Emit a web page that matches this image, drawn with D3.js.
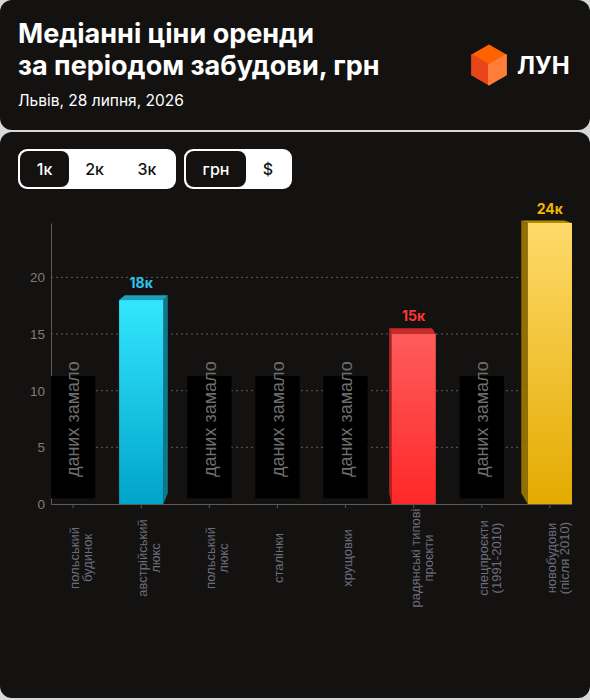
<!DOCTYPE html>
<html>
<head>
<meta charset="utf-8">
<script src="https://cdn.jsdelivr.net/npm/d3@7/dist/d3.min.js"></script>
<style>
  body { margin: 0; background: #ffffff; }
  svg { display: block; }
</style>
</head>
<body>
<div id="chart"></div>
<script>
const categories = ["польський будинок", "австрійський люкс", "польський люкс", "сталінки",
    "хрущовки", "радянські типові проєкти", "спецпроєкти (1991-2010)", "новобудови (після 2010)"];
const categoryLines = [["польський", "будинок"], ["австрійський", "люкс"], ["польський", "люкс"], ["сталінки"],
    ["хрущовки"], ["радянські типові", "проєкти"], ["спецпроєкти", "(1991-2010)"], ["новобудови", "(після 2010)"]];
const values = [null, 18, null, null, null, 15, null, 24.8];
const valueLabels = [null, "18к", null, null, null, "15к", null, "24к"];
const yTicks = [0, 5, 10, 15, 20];
const periodOptions = ["1к", "2к", "3к"];
const currencyOptions = ["грн", "$"];
const noDataText = "даних замало";
const noDataBox = [0.5, 11.3];   // value range covered by the placeholder box
const titleLines = ["Медіанні ціни оренди", "за періодом забудови, грн"];
const subtitle = "Львів, 28 липня, 2026";

const w = 590;
const h = 700;
const bg = "#131211";
const sans = "Inter, 'Noto Sans', sans-serif";
const arial = "'Liberation Sans', Arial, sans-serif";

// front gradient top/bottom, top face, side face, label colour
const barStyles = {
    1: { top: "#33e6ff", bottom: "#00a4c8", cap: "#1aa3ba", side: "#10788a", label: "#29c6e8" },
    5: { top: "#ff5c5c", bottom: "#ff2828", cap: "#c62a2a", side: "#b32020", label: "#ff3434" },
    7: { top: "#ffda6a", bottom: "#e3aa00", cap: "#b08b00", side: "#8f7000", label: "#f2b600" }
};

const svg = d3.select('#chart')
    .append('svg')
    .attr('width', w)
    .attr('height', h)

// cards
svg.append('rect').attr('x', 0).attr('y', 0).attr('width', w).attr('height', h).attr('fill', '#d8d8d8')
svg.append('rect').attr('x', 0).attr('y', 0).attr('width', w).attr('height', 130).attr('rx', 12).attr('fill', bg)
svg.append('rect').attr('x', 0).attr('y', 132).attr('width', w).attr('height', 566).attr('rx', 12).attr('fill', bg)

// header
svg.append('text')
    .attr('x', 18).attr('y', 43)
    .attr('fill', '#fff')
    .style('font-family', sans).style('font-weight', 700).style('font-size', '27px')
    .selectAll('tspan')
    .data(titleLines)
    .enter()
    .append('tspan')
    .attr('x', 18)
    .attr('dy', (d, i) => i === 0 ? 0 : 32)
    .text(d => d)

svg.append('text')
    .attr('x', 18).attr('y', 106)
    .attr('fill', '#fff')
    .style('font-family', sans).style('font-size', '15.5px')
    .text(subtitle)

// logo cube
const cx = 489, cy = 65, s = 19.5;
const c30 = Math.cos(Math.PI / 6) * s;
const logo = svg.append('g').attr('stroke-linejoin', 'round')
logo.append('polygon')
    .attr('points', [[cx, cy - s], [cx + c30, cy - s / 2], [cx, cy], [cx - c30, cy - s / 2]].join(' '))
    .attr('fill', '#ff6200').attr('stroke', '#ff6200').attr('stroke-width', 2)
logo.append('polygon')
    .attr('points', [[cx - c30, cy - s / 2], [cx, cy], [cx, cy + s], [cx - c30, cy + s / 2]].join(' '))
    .attr('fill', '#e8461a').attr('stroke', '#e8461a').attr('stroke-width', 2)
logo.append('polygon')
    .attr('points', [[cx + c30, cy - s / 2], [cx, cy], [cx, cy + s], [cx + c30, cy + s / 2]].join(' '))
    .attr('fill', '#ff7d3a').attr('stroke', '#ff7d3a').attr('stroke-width', 2)
svg.append('text')
    .attr('x', 517).attr('y', 74)
    .attr('fill', '#fff')
    .style('font-family', sans).style('font-weight', 700).style('font-size', '24px')
    .text('ЛУН')

// toggles
const makeToggle = (opts, x0, widths, selected) => {
    const g = svg.append('g')
    const total = d3.sum(widths) + 4
    g.append('rect').attr('x', x0).attr('y', 149).attr('width', total).attr('height', 40).attr('rx', 9).attr('fill', '#fff')
    let x = x0 + 2
    opts.forEach((o, i) => {
        if (i === selected) {
            g.append('rect').attr('x', x).attr('y', 151).attr('width', widths[i]).attr('height', 36).attr('rx', 8).attr('fill', bg)
        }
        g.append('text')
            .attr('x', x + widths[i] / 2).attr('y', 175)
            .attr('text-anchor', 'middle')
            .attr('fill', i === selected ? '#fff' : '#111')
            .style('font-family', sans).style('font-weight', 500).style('font-size', '16px')
            .text(o)
        x += widths[i]
    })
}
makeToggle(periodOptions, 18, [49, 51, 54], 0)
makeToggle(currencyOptions, 184, [60, 44], 0)

// chart
const plotL = 51, plotR = 572, plotT = 223, plotB = 504;

const xScale = d3.scaleBand()
    .domain(categories)
    .range([plotL, plotR])
    .paddingInner(0.35)
    .paddingOuter(0)

const yScale = d3.scaleLinear()
    .domain([0, d3.max(values)])
    .range([plotB, plotT])

// grid
svg.append('g')
    .selectAll('line')
    .data(yTicks.filter(d => d > 0))
    .enter()
    .append('line')
    .attr('x1', plotL).attr('x2', plotR)
    .attr('y1', d => yScale(d)).attr('y2', d => yScale(d))
    .attr('stroke', '#5c5c5c')
    .attr('stroke-dasharray', '2,3')

// y axis
const yAxis = d3.axisLeft(yScale).tickValues(yTicks).tickSize(0).tickPadding(6)
const yG = svg.append('g')
    .attr('transform', 'translate(' + plotL + ',0)')
    .call(yAxis)
yG.select('.domain').attr('stroke', '#5a5a5a')
yG.selectAll('text').attr('fill', '#7e7e7e').style('font-family', arial).style('font-size', '13.5px')

// x axis
const xAxis = d3.axisBottom(xScale).tickSize(4).tickFormat('')
const xG = svg.append('g')
    .attr('transform', 'translate(0,' + plotB + ')')
    .call(xAxis)
xG.select('.domain').attr('stroke', '#5a5a5a').attr('d', 'M' + plotL + ',0.5H' + plotR)
xG.selectAll('.tick line').attr('stroke', '#5a5a5a')

// x labels
svg.append('g')
    .selectAll('text')
    .data(categories)
    .enter()
    .append('text')
    .attr('transform', d => 'translate(' + (xScale(d) + xScale.bandwidth() / 2) + ',558) rotate(-90)')
    .attr('text-anchor', 'middle')
    .attr('fill', '#6c6c7c')
    .style('font-family', arial).style('font-size', '13px')
    .each(function (d, i) {
        d3.select(this).selectAll('tspan')
            .data(categoryLines[i])
            .enter()
            .append('tspan')
            .attr('x', 0)
            .attr('y', (l, j) => 6 + j * 13)
            .text(l => l)
    })

// gradients
const defs = svg.append('defs')
Object.keys(barStyles).forEach(k => {
    const grad = defs.append('linearGradient').attr('id', 'g' + k).attr('x1', 0).attr('y1', 0).attr('x2', 0).attr('y2', 1)
    grad.append('stop').attr('offset', '0%').attr('stop-color', barStyles[k].top)
    grad.append('stop').attr('offset', '100%').attr('stop-color', barStyles[k].bottom)
})

// placeholders for missing data
const bw = xScale.bandwidth()
const missing = categories.filter((c, i) => values[i] === null)
const ph = svg.append('g')
ph.selectAll('rect')
    .data(missing)
    .enter()
    .append('rect')
    .attr('x', d => xScale(d))
    .attr('y', yScale(noDataBox[1]))
    .attr('width', bw)
    .attr('height', yScale(noDataBox[0]) - yScale(noDataBox[1]))
    .attr('fill', '#000')
ph.selectAll('text')
    .data(missing)
    .enter()
    .append('text')
    .attr('transform', d => 'translate(' + (xScale(d) + bw / 2) + ',' + ((yScale(noDataBox[0]) + yScale(noDataBox[1])) / 2 - 18) + ') rotate(-90)')
    .attr('text-anchor', 'middle')
    .attr('dy', '0.35em')
    .attr('fill', '#6e6e6e')
    .style('font-family', arial).style('font-size', '18px')
    .text(noDataText)

// 3d bars, receding toward a point above the middle of the plot
const vp = [(plotL + plotR) / 2, 140];
const depth = 0.03;
const toward = (p) => [p[0] + (vp[0] - p[0]) * depth, p[1] + (vp[1] - p[1]) * depth];

const barData = values.map((v, i) => ({ v, i, c: categories[i] })).filter(d => d.v !== null)
const bars = svg.append('g')
    .selectAll('g')
    .data(barData)
    .enter()
    .append('g')

bars.each(function (d) {
    const g = d3.select(this)
    const st = barStyles[d.i]
    const x0 = xScale(d.c), x1 = x0 + bw
    const yt = yScale(d.v), yb = yScale(0)
    const sideX = (x0 + x1) / 2 < vp[0] ? x1 : x0
    const a = toward([sideX, yt]), b = toward([sideX, yb])
    g.append('polygon')
        .attr('points', [[sideX, yt], a, b, [sideX, yb]].join(' '))
        .attr('fill', st.side)
    const t0 = toward([x0, yt]), t1 = toward([x1, yt])
    g.append('polygon')
        .attr('points', [[x0, yt], t0, t1, [x1, yt]].join(' '))
        .attr('fill', st.cap)
    g.append('rect')
        .attr('x', x0).attr('y', yt)
        .attr('width', bw).attr('height', yb - yt)
        .attr('fill', 'url(#g' + d.i + ')')
    g.append('text')
        .attr('x', (x0 + x1) / 2)
        .attr('y', Math.min(t0[1], t1[1]) - 7)
        .attr('text-anchor', 'middle')
        .attr('fill', st.label)
        .style('font-family', sans).style('font-weight', 700).style('font-size', '14px')
        .text(valueLabels[d.i])
})
</script>
</body>
</html>
